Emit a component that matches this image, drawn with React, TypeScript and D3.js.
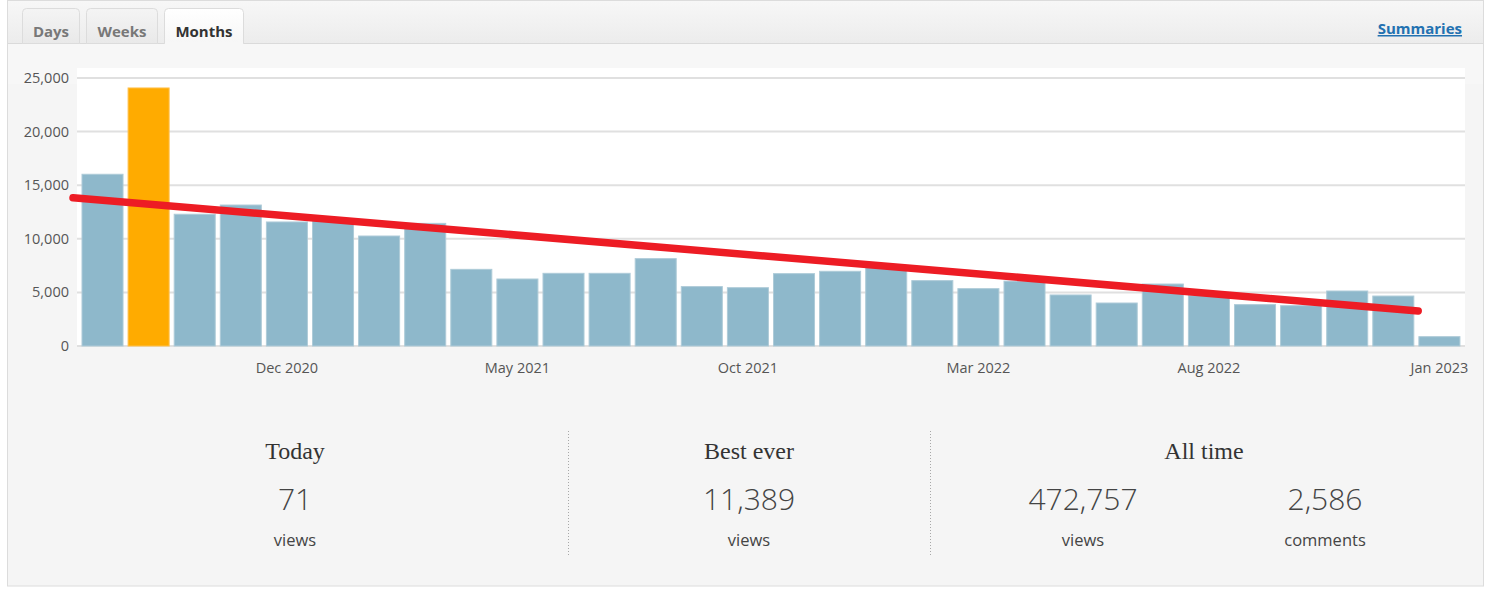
import React from "react";
import * as d3 from "d3";

const months = [
  "Aug 2020", "Sep 2020", "Oct 2020", "Nov 2020", "Dec 2020", "Jan 2021",
  "Feb 2021", "Mar 2021", "Apr 2021", "May 2021", "Jun 2021", "Jul 2021",
  "Aug 2021", "Sep 2021", "Oct 2021", "Nov 2021", "Dec 2021", "Jan 2022",
  "Feb 2022", "Mar 2022", "Apr 2022", "May 2022", "Jun 2022", "Jul 2022",
  "Aug 2022", "Sep 2022", "Oct 2022", "Nov 2022", "Dec 2022", "Jan 2023",
];
const views = [
  16020, 24070, 12290, 13150, 11570, 11700, 10260, 11440, 7150, 6250,
  6780, 6780, 8150, 5540, 5440, 6750, 6970, 7400, 6100, 5350,
  6050, 4760, 4010, 5780, 4700, 3860, 3760, 5130, 4660, 870,
];
const highlighted = ["Sep 2020"];
const xTickLabels = ["Dec 2020", "May 2021", "Oct 2021", "Mar 2022", "Aug 2022", "Jan 2023"];
const yTicks = [0, 5000, 10000, 15000, 20000, 25000];
// hand-drawn trend line: position in bar-index units, value in views
const trendIndex = [-0.64, 28.54];
const trendValue = [13830, 3265];

const tabs = ["Days", "Weeks", "Months"];
const activeTab = "Months";
const statTitles = ["Today", "Best ever", "All time"];
const statNumbers = ["71", "11,389", "472,757", "2,586"];
const statLabels = ["views", "views", "views", "comments"];

const W = 1485;
const H = 589;
const SANS = "'Open Sans', 'Noto Sans', sans-serif";
const SERIF = "'Liberation Serif', 'DejaVu Serif', serif";

export default function App() {
  const x = d3.scaleBand<string>().domain(months).range([79.46, 1462.46]).paddingInner(0.11).paddingOuter(0.055);
  const y = d3.scaleLinear().domain([0, 25000]).range([346, 78]);
  const step = x.step();
  const x0 = (x(months[0]) as number) + x.bandwidth() / 2;
  const trendPts: [number, number][] = trendIndex.map((t, i) => [t, trendValue[i]]);
  const trendPath = d3
    .line<[number, number]>()
    .x((d) => x0 + d[0] * step)
    .y((d) => y(d[1]))(trendPts) as string;
  const fmt = d3.format(",");

  const tabX = [
    [22.5, 79.5],
    [86.5, 157.5],
    [164.5, 243.5],
  ];
  const tabPath = (a: number, b: number) =>
    `M${a},43.5 L${a},12.5 Q${a},8.5 ${a + 4},8.5 L${b - 4},8.5 Q${b},8.5 ${b},12.5 L${b},43.5`;

  const colCenters = [295, 749, 1204];
  const numCenters = [295, 749, 1083, 1325];

  return (
    <div style={{ position: "absolute", left: 0, top: 0 }}>
      <svg width={W} height={H} style={{ display: "block" }}>
        <defs>
          <linearGradient id="hdr" x1="0" y1="0" x2="0" y2="1">
            <stop offset="0" stopColor="#f7f7f7" />
            <stop offset="1" stopColor="#ececec" />
          </linearGradient>
          <linearGradient id="tabIn" x1="0" y1="0" x2="0" y2="1">
            <stop offset="0" stopColor="#f4f4f4" />
            <stop offset="1" stopColor="#e9e9e9" />
          </linearGradient>
          <linearGradient id="tabAct" x1="0" y1="0" x2="0" y2="1">
            <stop offset="0" stopColor="#ffffff" />
            <stop offset="1" stopColor="#f6f6f6" />
          </linearGradient>
        </defs>
        <rect x={0} y={0} width={W} height={H} fill="#ffffff" />
        {/* outer box */}
        <rect x={7.5} y={0.5} width={1476} height={585.5} fill="#f5f5f5" stroke="#dcdcdc" />
        {/* header */}
        <rect x={8} y={1} width={1475} height={42} fill="url(#hdr)" />
        <line x1={8} x2={1483} y1={43.5} y2={43.5} stroke="#dadada" />
        <rect x={8} y={44} width={1475} height={40} fill="#f7f7f7" />
        {tabs.map((t, i) => {
          const [a, b] = tabX[i];
          const act = t === activeTab;
          return (
            <g key={t}>
              <path d={tabPath(a, b) + (act ? "" : " Z")} fill={act ? "url(#tabAct)" : "url(#tabIn)"} stroke="#dcdcdc" />
              {act && <rect x={a + 0.5} y={42} width={b - a - 1} height={3} fill="#f7f7f7" />}
              <text
                x={(a + b) / 2}
                y={36.5}
                textAnchor="middle"
                fontFamily={SANS}
                fontWeight={700}
                fontSize={15}
                fill={act ? "#333333" : "#787878"}
              >
                {t}
              </text>
            </g>
          );
        })}
        <text x={1462} y={34} textAnchor="end" fontFamily={SANS} fontWeight={700} fontSize={15} fill="#2271b1" textDecoration="underline">
          Summaries
        </text>

        {/* plot area */}
        <rect x={77} y={68} width={1388} height={279} fill="#ffffff" />
        {yTicks.map((t) => (
          <g key={t}>
            <line x1={77} x2={1465} y1={y(t)} y2={y(t)} stroke="#e0e0e0" strokeWidth={2} />
            <text x={69} y={y(t) + 5} textAnchor="end" fontFamily={SANS} fontSize={14.5} fill="#555555">
              {fmt(t)}
            </text>
          </g>
        ))}
        {months.map((m, i) => (
          <rect
            key={m}
            x={x(m) as number}
            y={y(views[i])}
            width={x.bandwidth()}
            height={y(0) - y(views[i])}
            fill={highlighted.includes(m) ? "#ffab00" : "#8eb8cb"}
            stroke={highlighted.includes(m) ? "#ffc04a" : "#aecbd8"}
            strokeWidth={1}
          />
        ))}
        {xTickLabels.map((l) => (
          <text
            key={l}
            x={(x(l) as number) + x.bandwidth() / 2}
            y={373}
            textAnchor="middle"
            fontFamily={SANS}
            fontSize={14.5}
            fill="#555555"
          >
            {l}
          </text>
        ))}
        <path d={trendPath} fill="none" stroke="#ed1c24" strokeWidth={7.5} strokeLinecap="round" />

        {/* stats */}
        {[568.5, 930.5].map((xx) => (
          <line key={xx} x1={xx} x2={xx} y1={431} y2={556} stroke="#a8a8a8" strokeDasharray="1,2" />
        ))}
        {statTitles.map((t, i) => (
          <text key={t} x={colCenters[i]} y={459} textAnchor="middle" fontFamily={SERIF} fontSize={24} fill="#333333">
            {t}
          </text>
        ))}
        {statNumbers.map((n, i) => (
          <text key={i} x={numCenters[i]} y={510} textAnchor="middle" fontFamily={SANS} fontWeight={300} fontSize={30} fill="#444444">
            {n}
          </text>
        ))}
        {statLabels.map((n, i) => (
          <text key={i} x={numCenters[i]} y={546} textAnchor="middle" fontFamily={SANS} fontSize={16.5} fill="#444444">
            {n}
          </text>
        ))}
      </svg>
    </div>
  );
}
